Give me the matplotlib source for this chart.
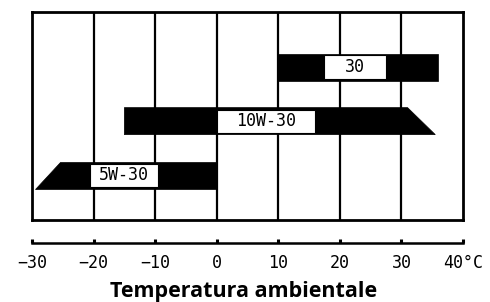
import matplotlib
matplotlib.use("Agg")
import matplotlib.pyplot as plt
from matplotlib.patches import Polygon, Rectangle

# oil grades and their temperature ranges (deg C)
grades = ["30", "10W-30", "5W-30"]
rows = [3, 2, 1]
low_top = [10, -15, -25.5]
low_bottom = [10, -15, -29.5]
high_top = [36, 31, 0]
high_bottom = [36, 35.5, 0]
label_center = [22.5, 8, -15]
label_width = [10, 16, 11]

ticks = [-30, -20, -10, 0, 10, 20, 30, 40]
tick_labels = ["\u221230", "\u221220", "\u221210", "0", "10", "20", "30", "40\u00b0C"]
xlabel = "Temperatura ambientale"

fig = plt.figure(figsize=(4.9, 3.02), dpi=100)
L, W = 32 / 490, 431 / 490
ax = fig.add_axes([L, 1 - 220 / 302, W, 208 / 302])
ax.set_xlim(-30, 40)
ax.set_ylim(0.17, 4.02)
ax.set_xticks([])
ax.set_yticks([])
for s in ax.spines.values():
    s.set_linewidth(2.0)
    s.set_zorder(5)

for t in ticks[1:-1]:
    ax.axvline(t, color="black", lw=1.6, zorder=1)

h = 0.5
for i, g in enumerate(grades):
    y = rows[i]
    pts = [(low_bottom[i], y - h / 2), (high_bottom[i], y - h / 2),
           (high_top[i], y + h / 2), (low_top[i], y + h / 2)]
    ax.add_patch(Polygon(pts, closed=True, facecolor="black", edgecolor="black", lw=0.5, zorder=2))
    bh = h * 0.86
    ax.add_patch(Rectangle((label_center[i] - label_width[i] / 2, y - bh / 2), label_width[i], bh,
                           facecolor="white", edgecolor="black", lw=0.8, zorder=3))
    ax.text(label_center[i], y, g, ha="center", va="center", fontsize=12,
            family="DejaVu Sans Mono", zorder=4)

# temperature scale below the box
ax2 = fig.add_axes([L, 1 - 243 / 302, W, 0.001])
ax2.set_xlim(-30, 40)
ax2.set_yticks([])
for k in ["top", "left", "right"]:
    ax2.spines[k].set_visible(False)
ax2.spines["bottom"].set_linewidth(1.8)
ax2.set_xticks(ticks)
ax2.set_xticklabels(tick_labels, family="DejaVu Sans Mono", fontsize=12)
ax2.tick_params(axis="x", direction="in", length=3, width=2.2, pad=8)

fig.text(0.498, 1 - 291 / 302, xlabel, ha="center", va="center",
         fontsize=15.5, fontweight="bold", family="Open Sans")

fig.savefig("out.png", dpi=100)
